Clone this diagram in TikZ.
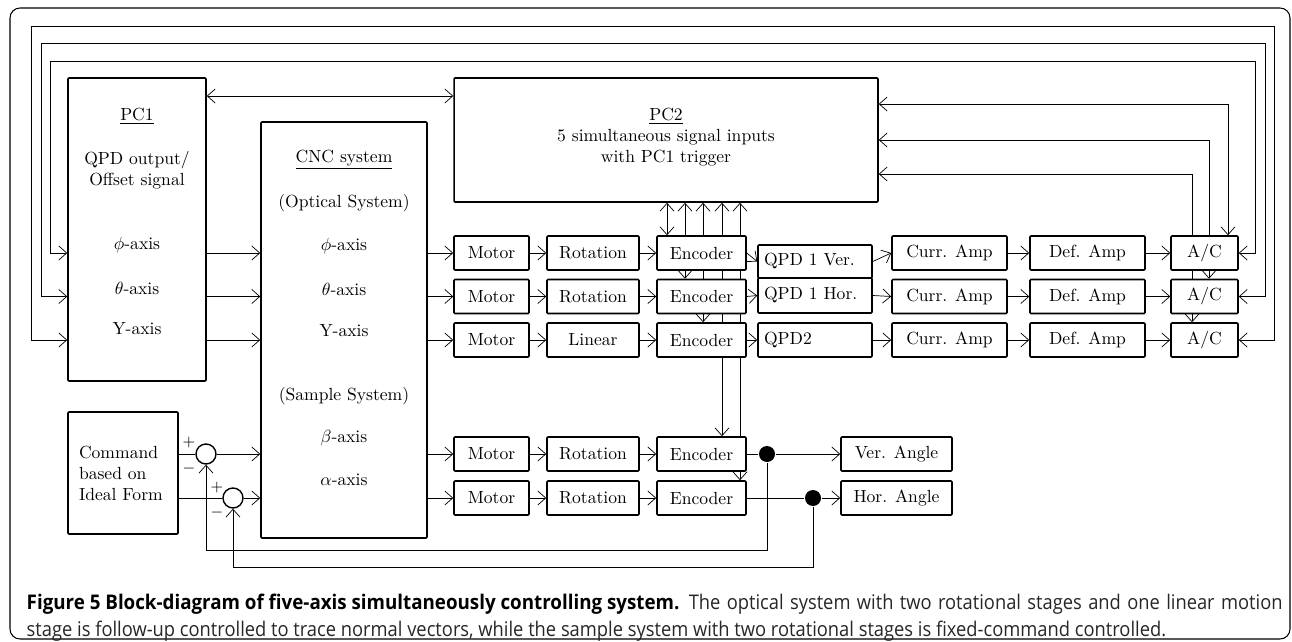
\documentclass[tikz,border=0pt]{standalone}
\usepackage{fontspec}
\usepackage{amsmath}
\usepackage{graphicx}
\newfontfamily\capfont{Open Sans}
\usetikzlibrary{arrows.meta, positioning, backgrounds}

\newlength\capw
\newcommand\captwo{stage is follow-up controlled to trace normal vectors, while the sample system with two rotational stages is fixed-command controlled.}

\tikzset{
  blk/.style={draw, line width=0.9pt, fill=white, rounded corners=0.6pt, inner sep=0pt},
  rowbox/.style={blk, minimum height=0.68cm},
  sumj/.style={circle, draw, line width=0.8pt, fill=white, minimum size=0.4cm, inner sep=0pt},
  dotj/.style={circle, fill=black, minimum size=0.32cm, inner sep=0pt},
  txt/.style={inner sep=0pt},
  sgn/.style={inner sep=0pt, font=\fontsize{9}{10}\selectfont},
  capline/.style={anchor=base west, inner sep=0pt, font=\capfont\fontsize{11.5}{13}\selectfont}
}

\begin{document}
% caption squeeze factor, taken from the last line
\settowidth{\capw}{\capfont\fontsize{11.5}{13}\selectfont\captwo}
\pgfmathsetmacro\capfac{648.5pt/\capw}
\pgfmathsetlengthmacro\capin{338pt/\capfac}
\begin{tikzpicture}[x=0.02cm, y=-0.02cm, line width=0.85pt,
  >={Straight Barb[length=4.5pt,width=8pt]}, font=\fontsize{10}{12}\selectfont]
\useasboundingbox (0,0) rectangle (1292,642);

% big blocks
\node[blk, minimum width=2.76cm, minimum height=6.06cm] (pc1) at (137,229.5) {};
\node[txt] (pc1t) at (137,116) {\underline{PC1}};
\node[txt, align=center] (pc1s) at (137,170) {QPD output/\\Offset signal};
\node[txt] (pc1a) at (137,245) {$\phi$-axis};
\node[txt] (pc1b) at (137,288) {$\theta$-axis};
\node[txt] (pc1c) at (137,329) {Y-axis};

\node[blk, minimum width=3.32cm, minimum height=8.32cm] (cnc) at (344,330) {};
\node[txt] (cnct) at (344,160) {\underline{CNC system}};
\node[txt] (cnco) at (344,203) {(Optical System)};
\node[txt] (cnca) at (344,246) {$\phi$-axis};
\node[txt] (cncb) at (344,289) {$\theta$-axis};
\node[txt] (cncc) at (344,331) {Y-axis};
\node[txt] (cncs) at (344,396) {(Sample System)};
\node[txt] (cncd) at (344,438) {$\beta$-axis};
\node[txt] (cnce) at (344,480) {$\alpha$-axis};

\node[blk, minimum width=8.48cm, minimum height=2.48cm] (pc2) at (666,140) {};
\node[txt, align=center] (pc2t) at (666,137.5) {\underline{PC2}\\5 simultaneous signal inputs\\with PC1 trigger};

\node[blk, text width=1.76cm, inner xsep=0.22cm, align=left,
  minimum height=2.44cm] (cmd) at (123,473) {Command\\based on\\Ideal Form};

% stage rows
\foreach \r/\y/\st in {1/253/Rotation, 2/296.5/Rotation, 3/340/Linear, 4/454/Rotation, 5/498/Rotation} {
  \node[rowbox, minimum width=1.5cm] (mot\r) at (491.5,\y) {Motor};
  \node[rowbox, minimum width=1.84cm] (rot\r) at (593,\y) {\st};
  \node[rowbox, minimum width=1.78cm] (enc\r) at (701.5,\y) {Encoder};
}
\node[blk, text width=2.04cm, inner xsep=0.12cm, align=left, minimum height=0.66cm] (qpd1) at (815,261.5) {QPD 1 Ver.};
\node[blk, text width=2.04cm, inner xsep=0.12cm, align=left, minimum height=0.70cm] (qpd2) at (815,295.5) {QPD 1 Hor.};
\node[blk, text width=2.04cm, inner xsep=0.12cm, align=left, minimum height=0.68cm] (qpd3) at (815,340) {QPD2};
\foreach \r/\y in {1/253, 2/296.5, 3/340} {
  \node[rowbox, minimum width=2.3cm] (cur\r) at (949.5,\y) {Curr. Amp};
  \node[rowbox, minimum width=2.3cm] (def\r) at (1087.5,\y) {Def. Amp};
  \node[rowbox, minimum width=1.34cm] (ac\r) at (1204.5,\y) {A/C};
}
\node[rowbox, minimum width=2.22cm] (ang1) at (896.5,454) {Ver. Angle};
\node[rowbox, minimum width=2.22cm] (ang2) at (896.5,498) {Hor. Angle};

% summing points and branch dots
\node[sumj] (sum1) at (206,454) {};
\node[sumj] (sum2) at (233,498) {};
\node[sgn] (plus1) at (189,443) {$+$};
\node[sgn] (minus1) at (189,469) {$-$};
\node[sgn] (plus2) at (217,488) {$+$};
\node[sgn] (minus2) at (217,513) {$-$};
\node[dotj] (dot1) at (767,454) {};
\node[dotj] (dot2) at (813,498) {};

% caption
\node[capline] (capa) at (26,609) {\resizebox{371.5pt}{\height}{\textbf{Figure 5 Block-diagram of five-axis simultaneously controlling system.}}};
\node[capline, text=black!85] (capb) at (688,609) {\scalebox{\capfac}[1]{\makebox[\capin][s]{The optical system with two rotational stages and one linear motion}}};
\node[capline, text=black!85] (capc) at (26,636) {\scalebox{\capfac}[1]{\captwo}};

\begin{scope}[on background layer]
\draw[line width=0.6pt, rounded corners=0.2cm] (10,8) rectangle (1290,639);

% feedback loops A/C -> PC1
\foreach \r/\y/\xr/\yt/\xl in {1/253/1255/61/50, 2/296.5/1265/43/41, 3/340/1274/26/31}
  \draw[<->] (ac\r.east) -| (\xr,\yt) -| (\xl,\y) -- (pc1.west |- ac\r.east);

\draw[<->] (pc1.east |- 0,96) -- (pc2.west |- 0,96);

\foreach \r in {1,2,3}
  \draw[->] (pc1.east |- mot\r) -- (cnc.west |- mot\r);
\foreach \r in {1,...,5} {
  \draw[->] (cnc.east |- mot\r) -- (mot\r);
  \draw[->] (mot\r) -- (rot\r);
  \draw[->] (rot\r) -- (enc\r);
}
\foreach \r in {1,2,3} {
  \draw[->] (enc\r.east) -- (qpd\r.west);
  \draw[->] (qpd\r.east) -- (cur\r.west);
  \draw[->] (cur\r) -- (def\r);
  \draw[->] (def\r) -- (ac\r);
}

% PC2 links
\foreach \r/\xe in {1/667, 2/685, 3/703, 4/722, 5/740}
  \draw[<->] (enc\r.north -| \xe,0) -- (pc2.south -| \xe,0);
\foreach \r/\xa/\ya in {1/1228/104, 2/1209/140, 3/1192/174}
  \draw[<->] (ac\r.north -| \xa,0) |- (pc2.east |- 0,\ya);

% sample system loop
\draw (cmd.east |- sum1) -- (sum1.west);
\draw (cmd.east |- sum2) -- (sum2.west);
\draw[->] (sum1.east) -- (cnc.west |- sum1);
\draw[->] (sum2.east) -- (cnc.west |- sum2);
\draw (enc4.east) -- (dot1);
\draw (enc5.east) -- (dot2);
\draw[->] (dot1) -- (ang1.west);
\draw[->] (dot2) -- (ang2.west);
\draw[->] (dot1) -- (dot1 |- 0,550) -| (sum1.south);
\draw[->] (dot2) -- (dot2 |- 0,567) -| (sum2.south);
\end{scope}
\end{tikzpicture}
\end{document}
